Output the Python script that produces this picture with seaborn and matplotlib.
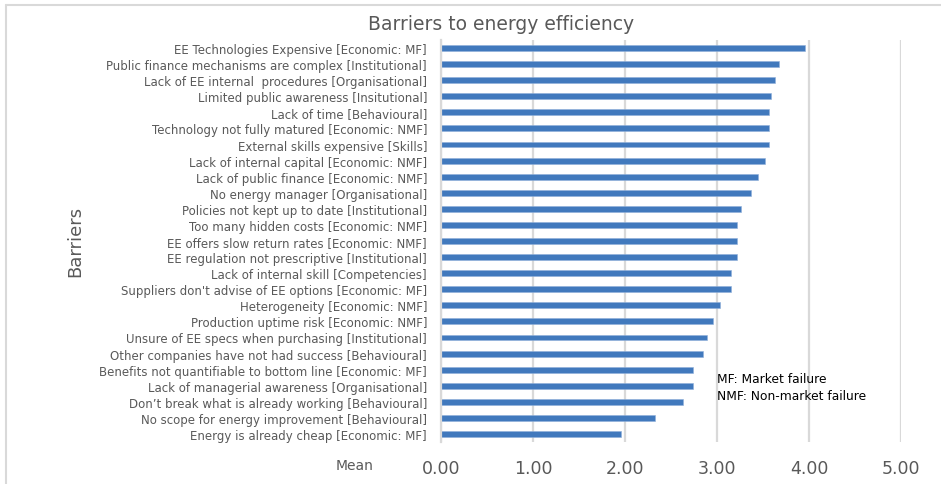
import matplotlib
matplotlib.use("Agg")
import matplotlib.pyplot as plt
import seaborn as sns
import pandas as pd
from matplotlib.lines import Line2D

barriers = [
    "EE Technologies Expensive [Economic: MF]",
    "Public finance mechanisms are complex [Institutional]",
    "Lack of EE internal  procedures [Organisational]",
    "Limited public awareness [Insitutional]",
    "Lack of time [Behavioural]",
    "Technology not fully matured [Economic: NMF]",
    "External skills expensive [Skills]",
    "Lack of internal capital [Economic: NMF]",
    "Lack of public finance [Economic: NMF]",
    "No energy manager [Organisational]",
    "Policies not kept up to date [Institutional]",
    "Too many hidden costs [Economic: NMF]",
    "EE offers slow return rates [Economic: NMF]",
    "EE regulation not prescriptive [Institutional]",
    "Lack of internal skill [Competencies]",
    "Suppliers don't advise of EE options [Economic: MF]",
    "Heterogeneity [Economic: NMF]",
    "Production uptime risk [Economic: NMF]",
    "Unsure of EE specs when purchasing [Institutional]",
    "Other companies have not had success [Behavioural]",
    "Benefits not quantifiable to bottom line [Economic: MF]",
    "Lack of managerial awareness [Organisational]",
    "Don\u2019t break what is already working [Behavioural]",
    "No scope for energy improvement [Behavioural]",
    "Energy is already cheap [Economic: MF]",
]
mean_scores = [3.96, 3.67, 3.63, 3.59, 3.56, 3.56, 3.56, 3.52, 3.45, 3.37,
               3.26, 3.22, 3.22, 3.22, 3.15, 3.15, 3.03, 2.96, 2.89, 2.85,
               2.74, 2.74, 2.63, 2.33, 1.96]
x_ticks = [0, 1, 2, 3, 4, 5]

df = pd.DataFrame({"Barrier": barriers, "Mean": mean_scores})

sns.set_theme(style="white")
plt.rcParams["font.family"] = ["DejaVu Sans"]

W, H = 941, 485
fig = plt.figure(figsize=(W / 100, H / 100), dpi=100, linewidth=0)
ax = fig.add_axes([441 / W, 1 - 443 / H, (901 - 441) / W, (443 - 41) / H])

sns.barplot(data=df, x="Mean", y="Barrier", orient="h", color="#4179bd",
            saturation=1, width=0.37, ax=ax, edgecolor="#8fb0da", linewidth=0.4)

ax.set_xlim(0, 5)
ax.set_ylim(len(barriers) - 0.5, -0.5)
ax.set_xticks(x_ticks)
ax.set_xticklabels([f"{v:.2f}" for v in x_ticks])
ax.xaxis.grid(True, color="#d9d9d9", linewidth=1.6)
ax.set_axisbelow(True)
for side in ["top", "right", "bottom"]:
    ax.spines[side].set_visible(False)
ax.spines["left"].set_color("#d9d9d9")
ax.spines["left"].set_linewidth(1.6)

ax.tick_params(axis="x", length=0, pad=12, labelsize=12.5, labelcolor="#595959")
ax.tick_params(axis="y", length=0, pad=10, labelsize=8.5, labelcolor="#595959")
ax.set_xlabel("")
ax.set_ylabel("")

fig.text(501 / W, 1 - 25 / H, "Barriers to energy efficiency", ha="center",
         va="center", fontsize=13.5, color="#595959")
fig.text(75 / W, 1 - 241 / H, "Barriers", rotation=90, ha="center",
         va="center", fontsize=13, color="#595959")
fig.text(355 / W, 1 - 466 / H, "Mean", ha="center", va="center",
         fontsize=10, color="#595959")

ax.text(3.0, 21.07, "MF: Market failure\nNMF: Non-market failure",
        ha="left", va="center", fontsize=8.8, color="#000000", linespacing=1.4)

# chart frame (top and left edges)
frame_kw = dict(transform=fig.transFigure, color="#d9d9d9", linewidth=1.5)
fig.lines.append(Line2D([5.5 / W, 1.0], [1 - 5.5 / H] * 2, **frame_kw))
fig.lines.append(Line2D([5.5 / W] * 2, [0.0, 1 - 5.5 / H], **frame_kw))

fig.savefig("out.png", dpi=100, facecolor="white", edgecolor="white")
